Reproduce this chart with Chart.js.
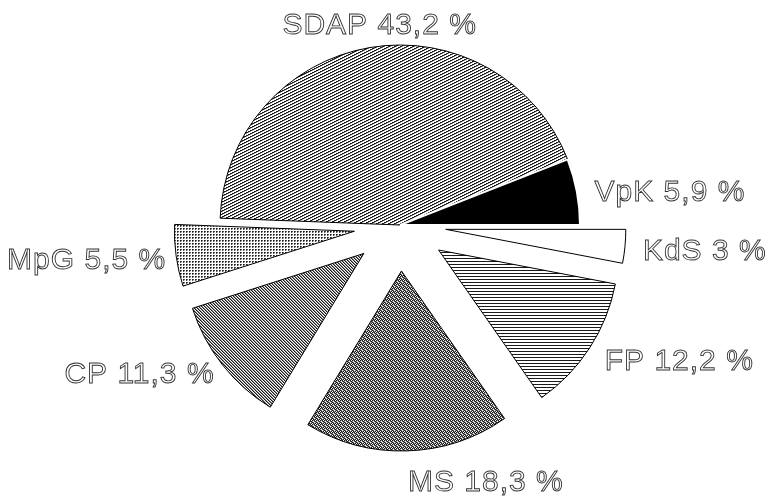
<!DOCTYPE html>
<html>
<head>
<meta charset="utf-8">
<script src="https://cdn.jsdelivr.net/npm/chart.js@4/dist/chart.umd.min.js"></script>
<style>
  html, body { margin: 0; padding: 0; background: #fff; }
  #c { display: block; }
</style>
</head>
<body>
<canvas id="c" width="774" height="498"></canvas>
<script>
// ---- data (clockwise from the 3 o'clock position) ----
const parties = ['KdS', 'FP', 'MS', 'CP', 'MpG', 'SDAP', 'VpK'];
const shares  = [3, 12.2, 18.3, 11.3, 5.5, 43.2, 5.9];
const exploded = [true, true, true, true, true, false, false];

// ---- styling ----
const EXPLODE_PX = 46;
const fillStyles = ['white', 'hlines', 'dither', 'diagDense', 'dots', 'diagLight', 'black'];

const canvas = document.getElementById('c');
const ctx = canvas.getContext('2d');

function makePattern(rows, colors) {
  const h = rows.length, w = rows[0].length;
  const t = document.createElement('canvas');
  t.width = w; t.height = h;
  const tx = t.getContext('2d');
  for (let j = 0; j < h; j++) {
    for (let i = 0; i < w; i++) {
      tx.fillStyle = colors[rows[j][i]];
      tx.fillRect(i, j, 1, 1);
    }
  }
  return ctx.createPattern(t, 'repeat');
}
const pal = { '#': '#1a1a1a', '+': '#8a8a8a', '.': '#ffffff', 'o': '#555555', '-': '#c8c8c8' };
const patterns = {
  white: '#ffffff',
  black: '#000000',
  diagLight: makePattern(['##+...', '+...##', '..##+.'], pal),
  diagDense: makePattern(['#+.', '.#+', '+.#'], pal),
  hlines: makePattern(['#', '.', '.'], pal),
  dither: makePattern(['#+#.', '+.o#', '#o.+', '.#+#'], pal),
  dots: makePattern(['#o.', 'o-.', '...'], pal)
};

const explodePlugin = {
  id: 'explode',
  afterDatasetUpdate(chart, args) {
    const meta = args.meta;
    meta.data.forEach((arc, i) => {
      if (!exploded[i]) return;
      const mid = (arc.startAngle + arc.endAngle) / 2;
      arc.x += Math.cos(mid) * EXPLODE_PX;
      arc.y += Math.sin(mid) * EXPLODE_PX;
    });
  }
};

function formatLabel(i) {
  return parties[i] + ' ' + String(shares[i]).replace('.', ',') + ' %';
}

const labelPlugin = {
  id: 'sliceLabels',
  afterDatasetsDraw(chart) {
    const meta = chart.getDatasetMeta(0);
    const c = chart.ctx;
    c.save();
    c.font = '30px "Liberation Sans", Arial, sans-serif';
    if ('letterSpacing' in c) c.letterSpacing = '1px';
    c.lineWidth = 0.9;
    c.strokeStyle = '#333333';
    c.fillStyle = '#ffffff';
    c.textBaseline = 'middle';
    meta.data.forEach((arc, i) => {
      const mid = (arc.startAngle + arc.endAngle) / 2;
      const cs = Math.cos(mid), sn = Math.sin(mid);
      let gap = cs < 0 ? 10 : 18;
      if (sn < -0.9) gap = 26;
      if (sn > 0.9) gap = 28;
      const r = arc.outerRadius + gap;
      const x = arc.x + cs * r;
      const y = arc.y + sn * r + 4;
      c.textAlign = sn < -0.9 ? 'center' : (cs >= 0 ? 'left' : 'right');
      const tx = sn < -0.9 ? x + 14 : x;
      c.fillText(formatLabel(i), tx, y);
      c.strokeText(formatLabel(i), tx, y);
    });
    c.restore();
  }
};

new Chart(canvas, {
  type: 'pie',
  data: {
    labels: parties,
    datasets: [{
      data: shares,
      backgroundColor: fillStyles.map(k => patterns[k]),
      borderColor: parties.map((p, i) => fillStyles[i] === 'black' ? '#ffffff' : '#000000'),
      borderWidth: parties.map((p, i) => fillStyles[i] === 'black' ? 2 : 1),
      hoverOffset: 0
    }]
  },
  options: {
    responsive: false,
    animation: false,
    rotation: 90,
    layout: { padding: { left: 150, right: 124, top: 44, bottom: 92 } },
    plugins: {
      legend: { display: false },
      tooltip: { enabled: false }
    },
    events: []
  },
  plugins: [explodePlugin, labelPlugin]
});
</script>
</body>
</html>
